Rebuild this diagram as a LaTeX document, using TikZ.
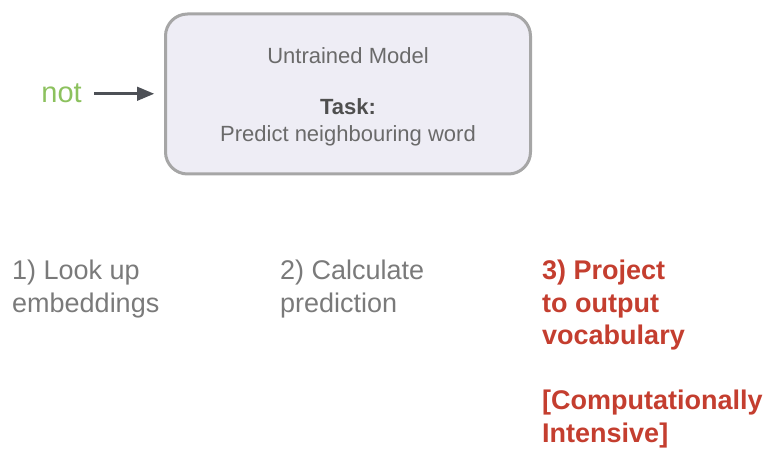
\documentclass[tikz,border=0pt]{standalone}
\usepackage{fontspec}
\setmainfont{Liberation Sans}
\usetikzlibrary{arrows}

\definecolor{boxfill}{HTML}{EEEDF5}
\definecolor{boxline}{HTML}{A6A6A6}
\definecolor{labelgrey}{HTML}{6A6A6A}
\definecolor{taskgrey}{HTML}{4F4F4F}
\definecolor{stepgrey}{HTML}{7A7A7A}
\definecolor{projred}{HTML}{C43E2F}
\definecolor{wordgreen}{HTML}{8CC15E}
\definecolor{arrowgrey}{HTML}{4D5056}

\begin{document}
\begin{tikzpicture} [x=1pt, y=-1pt,
  boxtext/.style={anchor=base, inner sep=0, text=labelgrey, font=\fontsize{22}{26}\selectfont},
  steptext/.style={anchor=base west, align=left, inner sep=0, text=stepgrey, font=\fontsize{27}{32.5}\selectfont}]
\useasboundingbox (0,0) rectangle (770,454);
% the model box
\node[draw=boxline, line width=3pt, fill=boxfill, rounded corners=22pt,
  minimum width=365pt, minimum height=160pt] (model) at (348,94) {};
\node[boxtext] (title) at (348,64) {Untrained Model};
\node[boxtext, text=taskgrey, font=\fontsize{22}{26}\selectfont\bfseries] (task) at (348,115) {Task:};
\node[boxtext] (goal) at (348,142) {Predict neighbouring word};
% input word
\node[anchor=base east, inner sep=0, text=wordgreen, font=\fontsize{29}{32}\selectfont] (word) at (82,103) {not};
\draw[arrowgrey, line width=3pt, ->, >=triangle 45, shorten <=12pt, shorten >=10pt] (word.east) -- (word.east -| model.west);
% steps (base = last line)
\node[steptext] (lookup) at (12,312) {1) Look up\\embeddings};
\node[steptext] (calc) at (280,312) {2) Calculate\\prediction};
\node[steptext, text=projred, font=\fontsize{27}{32.5}\selectfont\bfseries] (project) at (542,442)
  {3) Project\\to output\\vocabulary\\[32.5pt]{[}Computationally\\Intensive]};
\end{tikzpicture}
\end{document}
